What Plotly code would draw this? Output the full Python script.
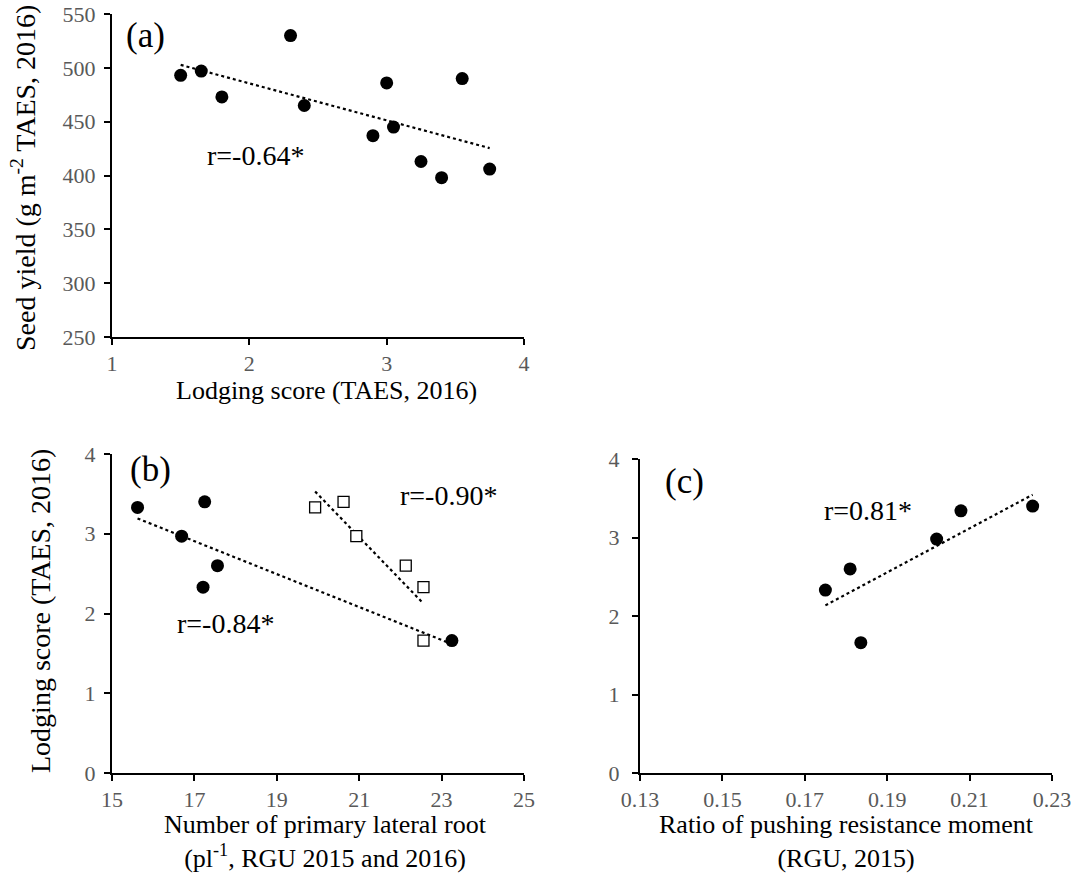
import numpy as np
import plotly.graph_objects as go

# (a) lodging score vs seed yield, TAES 2016
lodging_a = [1.5, 1.65, 1.8, 2.3, 2.4, 2.9, 3.0, 3.05, 3.25, 3.4, 3.55, 3.75]
yield_a = [493, 497, 473, 530, 465, 437, 486, 445, 413, 398, 490, 406]

# (b) number of primary lateral roots vs lodging score
roots_2015 = [15.62, 17.25, 16.69, 17.56, 17.21, 23.25]
roots_2016 = [19.93, 20.62, 20.93, 22.13, 22.56, 22.56]
lodging_b = [3.33, 3.4, 2.97, 2.6, 2.33, 1.66]

# (c) ratio of pushing resistance moment vs lodging score
ratio_c = [0.175, 0.181, 0.1836, 0.202, 0.2079, 0.2253]
lodging_c = [2.33, 2.6, 1.66, 2.98, 3.34, 3.4]

FONT = "Liberation Serif, Times New Roman, serif"
TICK_COLOR = "#595959"
W, H = 1083, 876


def px(x):
    return x / W


def py(y):
    return 1 - y / H


def trend(x, y):
    slope, intercept = np.polyfit(x, y, 1)
    xs = np.array([min(x), max(x)])
    return xs, slope * xs + intercept


fig = go.Figure()

circle = dict(symbol="circle", size=13, color="black")
dotted = dict(color="black", width=2.2, dash="dot")

# panel (a)
tx, ty = trend(lodging_a, yield_a)
fig.add_trace(go.Scatter(x=tx, y=ty, mode="lines", line=dotted, xaxis="x", yaxis="y"))
fig.add_trace(go.Scatter(x=lodging_a, y=yield_a, mode="markers", marker=circle, xaxis="x", yaxis="y"))

# panel (b)
tx, ty = trend(roots_2015, lodging_b)
fig.add_trace(go.Scatter(x=tx, y=ty, mode="lines", line=dotted, xaxis="x2", yaxis="y2"))
tx, ty = trend(roots_2016, lodging_b)
fig.add_trace(go.Scatter(x=tx, y=ty, mode="lines", line=dotted, xaxis="x2", yaxis="y2"))
fig.add_trace(go.Scatter(x=roots_2015, y=lodging_b, mode="markers", marker=circle, xaxis="x2", yaxis="y2"))
fig.add_trace(go.Scatter(x=roots_2016, y=lodging_b, mode="markers",
                         marker=dict(symbol="square", size=11, color="white",
                                     line=dict(width=1.3, color="black")),
                         xaxis="x2", yaxis="y2"))

# panel (c)
tx, ty = trend(ratio_c, lodging_c)
fig.add_trace(go.Scatter(x=tx, y=ty, mode="lines", line=dotted, xaxis="x3", yaxis="y3"))
fig.add_trace(go.Scatter(x=ratio_c, y=lodging_c, mode="markers", marker=circle, xaxis="x3", yaxis="y3"))

axis_common = dict(
    showline=True, linecolor="black", linewidth=2, mirror=False,
    showgrid=False, zeroline=False, ticks="outside", ticklen=6, tickwidth=1.5,
    tickcolor="black", tickfont=dict(family=FONT, size=22, color=TICK_COLOR),
    automargin=False, fixedrange=True,
)

fig.update_layout(
    width=W, height=H, margin=dict(l=0, r=0, t=0, b=0),
    paper_bgcolor="white", plot_bgcolor="white", showlegend=False,
    font=dict(family=FONT, color="black"),
    xaxis=dict(axis_common, domain=[px(112), px(524)], range=[1, 4], tickvals=[1, 2, 3, 4],
               anchor="y", ticklabelstandoff=0),
    yaxis=dict(axis_common, domain=[py(337), py(14)], range=[250, 550],
               tickvals=[250, 300, 350, 400, 450, 500, 550], anchor="x", ticklabelstandoff=4),
    xaxis2=dict(axis_common, domain=[px(112), px(524)], range=[15, 25],
                tickvals=[15, 17, 19, 21, 23, 25], anchor="y2", ticklabelstandoff=0),
    yaxis2=dict(axis_common, domain=[py(773), py(454)], range=[0, 4],
                tickvals=[0, 1, 2, 3, 4], anchor="x2", ticklabelstandoff=4),
    xaxis3=dict(axis_common, domain=[px(640), px(1052)], range=[0.13, 0.23],
                tickvals=[0.13, 0.15, 0.17, 0.19, 0.21, 0.23],
                ticktext=["0.13", "0.15", "0.17", "0.19", "0.21", "0.23"],
                anchor="y3", ticklabelstandoff=0),
    yaxis3=dict(axis_common, domain=[py(773), py(459)], range=[0, 4],
                tickvals=[0, 1, 2, 3, 4], anchor="x3", ticklabelstandoff=8),
)

label_font = dict(family=FONT, size=35, color="black")
r_font = dict(family=FONT, size=28, color="black")
xtitle_font = dict(family=FONT, size=26, color="black")
ytitle_font = dict(family=FONT, size=28, color="black")

annotations = [
    dict(x=1.09, y=530, xref="x", yref="y", text="(a)", font=label_font),
    dict(x=1.676, y=419, xref="x", yref="y", text="r=-0.64*", font=r_font),
    dict(x=15.40, y=3.80, xref="x2", yref="y2", text="(b)", font=label_font),
    dict(x=21.94, y=3.48, xref="x2", yref="y2", text="r=-0.90*", font=r_font),
    dict(x=16.52, y=1.88, xref="x2", yref="y2", text="r=-0.84*", font=r_font),
    dict(x=0.1355, y=3.71, xref="x3", yref="y3", text="(c)", font=label_font),
    dict(x=0.1741, y=3.35, xref="x3", yref="y3", text="r=0.81*", font=r_font),
]
for a in annotations:
    fig.add_annotation(showarrow=False, xanchor="left", yanchor="middle", **a)

# axis titles
titles = [
    dict(x=px(326), y=py(390), text="Lodging score (TAES, 2016)", textangle=0, font=xtitle_font),
    dict(x=px(24), y=py(178), text="Seed yield (g m<sup>-2</sup> TAES, 2016)", textangle=-90, font=ytitle_font),
    dict(x=px(40), y=py(611), text="Lodging score (TAES, 2016)", textangle=-90, font=ytitle_font),
    dict(x=px(325), y=py(841), text="Number of primary lateral root<br>(pl<sup>-1</sup>, RGU 2015 and 2016)",
         textangle=0, font=xtitle_font),
    dict(x=px(846), y=py(841), text="Ratio of pushing resistance moment<br>(RGU, 2015)",
         textangle=0, font=xtitle_font),
]
for t in titles:
    fig.add_annotation(xref="paper", yref="paper", showarrow=False, xanchor="center", yanchor="middle", **t)

fig.write_html("out.html")
